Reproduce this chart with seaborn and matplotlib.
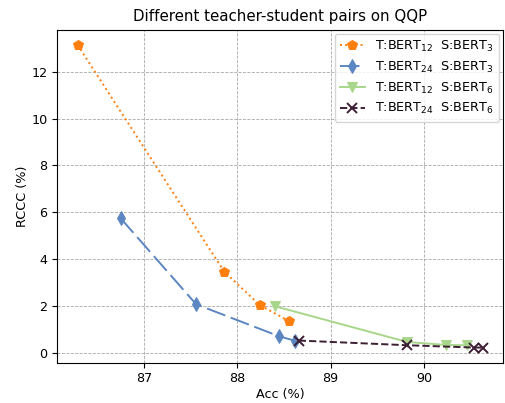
import matplotlib
matplotlib.use("Agg")
import matplotlib.pyplot as plt
import seaborn as sns
import pandas as pd

# Data
acc_12_3 = [86.29, 87.86, 88.24, 88.56]
rccc_12_3 = [13.15, 3.47, 2.04, 1.34]
acc_24_3 = [86.75, 87.56, 88.45, 88.62]
rccc_24_3 = [5.75, 2.07, 0.70, 0.51]
acc_12_6 = [88.41, 89.82, 90.24, 90.46]
rccc_12_6 = [1.98, 0.46, 0.33, 0.32]
acc_24_6 = [88.66, 89.82, 90.54, 90.63]
rccc_24_6 = [0.52, 0.32, 0.22, 0.22]

labels = [r"T:BERT$_{12}$  S:BERT$_{3}$",
          r"T:BERT$_{24}$  S:BERT$_{3}$",
          r"T:BERT$_{12}$  S:BERT$_{6}$",
          r"T:BERT$_{24}$  S:BERT$_{6}$"]

series = [(acc_12_3, rccc_12_3), (acc_24_3, rccc_24_3),
          (acc_12_6, rccc_12_6), (acc_24_6, rccc_24_6)]
colors = ["#ff7f0e", "#5b86c2", "#a8d68b", "#3d1f35"]
markers = ["p", "d", "v", "x"]
styles = [":", (0, (10, 3)), "-", "--"]
msizes = [7.2, 7.5, 7.2, 7]

fs = 9.2
plt.rcParams.update({"font.size": fs, "xtick.labelsize": fs, "ytick.labelsize": fs,
                     "axes.labelsize": fs, "legend.fontsize": fs})

fig, ax = plt.subplots(figsize=(5.05, 4.03), dpi=100)
fig.subplots_adjust(left=0.1135, right=0.996, bottom=0.1, top=0.926)

for (xs, ys), lab, c, m, ls, ms in zip(series, labels, colors, markers, styles, msizes):
    df = pd.DataFrame({"acc": xs, "rccc": ys})
    sns.lineplot(data=df, x="acc", y="rccc", ax=ax, sort=False, estimator=None,
                 errorbar=None, color=c, marker=m, linestyle=ls, linewidth=1.4,
                 markersize=ms, markeredgecolor=c, markerfacecolor=c,
                 markeredgewidth=1.4 if m == "x" else 0.7, label=lab, legend=False)

ax.grid(True, linestyle="--", color="#a8a8a8", linewidth=0.6)
ax.set_axisbelow(True)
ax.set_title("Different teacher-student pairs on QQP", fontsize=10.8)
ax.set_xlabel("Acc (%)", labelpad=2)
ax.set_ylabel("RCCC (%)", labelpad=2)
ax.set_xticks([87, 88, 89, 90])
ax.set_yticks([0, 2, 4, 6, 8, 10, 12])
ax.legend(loc="upper right", borderaxespad=0.3, labelspacing=0.45)

fig.savefig("out.png", dpi=100)
